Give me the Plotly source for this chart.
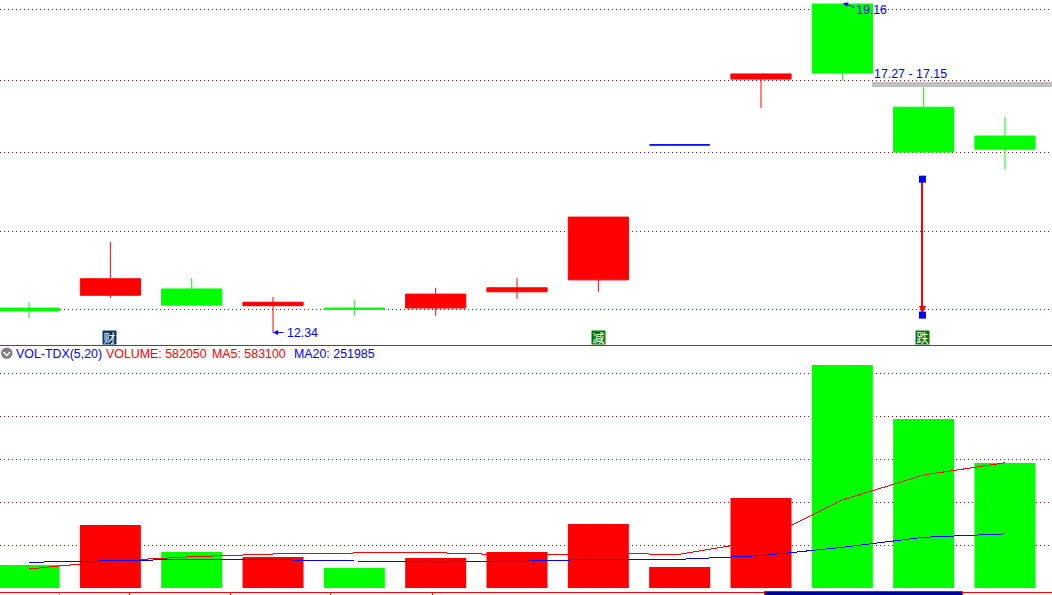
import math

import plotly.graph_objects as go

WIDTH = 1052
HEIGHT = 595

# daily candles, index 8 is the flat one and gets its own trace
days = list(range(13))
opens = [12.76, 12.98, 13.09, 12.80, 12.76, 12.76, 13.04, 13.25, 15.87, 17.33, 19.16, 16.69, 16.06]
closes = [12.71, 13.27, 12.81, 12.86, 12.74, 13.00, 13.11, 14.41, 15.87, 17.45, 17.47, 15.72, 15.78]
highs = [12.86, 13.94, 13.28, 12.95, 12.90, 13.11, 13.28, 14.41, 15.87, 17.45, 19.16, 17.15, 16.47]
lows = [12.59, 12.93, 12.81, 12.34, 12.63, 12.63, 12.92, 13.04, 15.87, 16.67, 17.29, 15.72, 15.35]

volume = [107000, 293000, 168000, 144000, 93000, 140000, 168000, 298000, 98000, 419000, 1038000, 787000, 582050]
volume_up = [False, True, False, True, False, True, True, True, True, True, False, False, False]
ma5 = [88500, 125700, 145700, 158300, 163000, 164400, 153600, 160600, 156900, 221200, 409700, 526100, 583100]
ma20 = [119700, 127100, 133600, 131800, 125700, 124300, 124300, 133600, 133600, 150400, 189500, 236100, 251985]

price_grid = [19.03, 17.29, 15.72, 14.14, 12.73]
volume_grid = [200000, 400000, 600000, 800000, 1000000]
price_range = [12.145, 19.263]
volume_range = [-16300, 1131400]
x_range = [-0.357, 12.578]
volume_ticks = [1.24, 2.48, 3.71, 4.96]

band_low, band_high = 17.15, 17.27
drop_x = 10.985
drop_from, drop_to = 15.16, 12.64

RED = "#ff0000"
GREEN = "#00ff00"
BLUE = "#0000ff"
GRID = "#b00000"
FONT = "Liberation Sans"


def px_x(x):
    return x / WIDTH


def px_y(y):
    return (HEIGHT - y) / HEIGHT


fig = go.Figure()

# candles without the flat one
idx = [i for i in days if i != 8]
fig.add_trace(go.Candlestick(
    x=idx,
    open=[opens[i] for i in idx],
    high=[highs[i] for i in idx],
    low=[lows[i] for i in idx],
    close=[closes[i] for i in idx],
    whiskerwidth=0,
    increasing=dict(line=dict(color=RED, width=1), fillcolor=RED),
    decreasing=dict(line=dict(color=GREEN, width=1), fillcolor=GREEN),
    showlegend=False,
    hoverinfo="skip",
))
fig.add_trace(go.Candlestick(
    x=[8],
    open=[opens[8]],
    high=[highs[8]],
    low=[lows[8]],
    close=[closes[8]],
    whiskerwidth=0,
    increasing=dict(line=dict(color=BLUE, width=1), fillcolor=BLUE),
    decreasing=dict(line=dict(color=BLUE, width=1), fillcolor=BLUE),
    showlegend=False,
    hoverinfo="skip",
))

# the red drop marker over the second last candle
fig.add_trace(go.Scatter(
    x=[drop_x, drop_x],
    y=[drop_from, drop_to],
    mode="lines",
    line=dict(color=RED, width=2),
    showlegend=False,
    hoverinfo="skip",
))
fig.add_trace(go.Scatter(
    x=[drop_x, drop_x],
    y=[drop_from, drop_to],
    mode="markers",
    marker=dict(symbol="square", size=7, color=BLUE),
    showlegend=False,
    hoverinfo="skip",
))

# volume pane
fig.add_trace(go.Bar(
    x=days,
    y=volume,
    width=0.75,
    marker=dict(color=[RED if up else GREEN for up in volume_up], line=dict(width=0)),
    xaxis="x2",
    yaxis="y2",
    showlegend=False,
    hoverinfo="skip",
))
fig.add_trace(go.Scatter(
    x=days, y=ma5, mode="lines", line=dict(color=RED, width=1),
    xaxis="x2", yaxis="y2", showlegend=False, hoverinfo="skip",
))
fig.add_trace(go.Scatter(
    x=days, y=ma20, mode="lines", line=dict(color=BLUE, width=1),
    xaxis="x2", yaxis="y2", showlegend=False, hoverinfo="skip",
))


def label(x, y, text, color=BLUE, size=12.4, **kw):
    fig.add_annotation(
        x=px_x(x), y=px_y(y), xref="paper", yref="paper",
        text=text, showarrow=False, xanchor="left", yanchor="middle",
        font=dict(family=FONT, size=size, color=color), borderpad=0, **kw,
    )


label(15, 353.5, "VOL-TDX(5,20)")
label(105, 353.5, "VOLUME: 582050", RED)
label(211, 353.5, "MA5: 583100", RED)
label(293, 353.5, "MA20: 251985")
label(855, 9.5, "19.16")
label(873, 74, "17.27 - 17.15")
label(286, 333, "12.34")

# small arrows from the price labels to the extreme points
fig.add_annotation(
    x=px_x(843), y=px_y(3), ax=13, ay=5, xref="paper", yref="paper",
    text="", showarrow=True, arrowhead=2, arrowsize=1, arrowwidth=1, arrowcolor=BLUE,
)
fig.add_annotation(
    x=px_x(273), y=px_y(332.5), ax=12, ay=0, xref="paper", yref="paper",
    text="", showarrow=True, arrowhead=2, arrowsize=1, arrowwidth=1, arrowcolor=BLUE,
)

# red head of the drop marker
fig.add_annotation(
    x=px_x(922.5), y=px_y(313), ax=0, ay=-9, xref="paper", yref="paper",
    text="", showarrow=True, arrowhead=2, arrowsize=0.7, arrowwidth=2, arrowcolor=RED,
)

# news badges sitting on the pane border
for cx, char, bg in [(109.5, "财", "#0a3a6e"), (598.5, "减", "#007a00"), (922.5, "跌", "#007a00")]:
    fig.add_annotation(
        x=px_x(cx), y=px_y(337.5), xref="paper", yref="paper", text=char,
        showarrow=False, bgcolor=bg, borderpad=0, xanchor="center", yanchor="middle",
        font=dict(family="Noto Sans CJK SC", size=12, color="white"),
        width=13, height=13,
    )

shapes = [
    # support band
    dict(type="rect", xref="paper", yref="y", x0=px_x(872), x1=1, y0=band_low, y1=band_high,
         fillcolor="#c0c0c0", line=dict(width=0)),
    # collapse icon
    dict(type="circle", xref="paper", yref="paper", x0=px_x(1), x1=px_x(12.5),
         y0=px_y(359), y1=px_y(347.5), fillcolor="#808080", line=dict(width=0)),
    dict(type="path", xref="paper", yref="paper",
         path=f"M {px_x(3.5)} {px_y(352)} L {px_x(6.75)} {px_y(355.5)} L {px_x(10)} {px_y(352)}",
         line=dict(color="white", width=1.5)),
    # scrollbar thumb under the volume pane
    dict(type="rect", xref="paper", yref="paper", x0=px_x(764.5), x1=px_x(962.5),
         y0=px_y(597), y1=px_y(591.5), fillcolor="#0000a0", line=dict(color=RED, width=1)),
    # faint blue tick left of the red ones
    dict(type="line", xref="paper", yref="paper", x0=px_x(59.5), x1=px_x(59.5),
         y0=px_y(595), y1=px_y(592.5), line=dict(color="#8080ff", width=1)),
]

fig.update_layout(
    width=WIDTH,
    height=HEIGHT,
    margin=dict(l=0, r=0, t=0, b=0, pad=0),
    paper_bgcolor="white",
    plot_bgcolor="white",
    boxgap=0.26,
    boxgroupgap=0,
    showlegend=False,
    shapes=shapes,
    xaxis=dict(
        domain=[0, 1], range=x_range, anchor="y", rangeslider=dict(visible=False),
        showgrid=False, zeroline=False, showticklabels=False, ticks="",
        showline=True, linecolor=RED, linewidth=1,
    ),
    yaxis=dict(
        domain=[px_y(345), 1], type="log", anchor="x",
        range=[math.log10(price_range[0]), math.log10(price_range[1])],
        tickmode="array", tickvals=price_grid, showticklabels=False, ticks="",
        showgrid=True, gridcolor=GRID, griddash="1px,3px", gridwidth=1, zeroline=False,
    ),
    xaxis2=dict(
        domain=[0, 1], range=x_range, anchor="y2", showgrid=False, zeroline=False,
        tickmode="array", tickvals=volume_ticks, showticklabels=False,
        ticks="outside", ticklen=3, tickcolor=RED, tickwidth=1,
        showline=True, linecolor=RED, linewidth=1,
    ),
    yaxis2=dict(
        domain=[px_y(591.5), px_y(345)], range=volume_range, anchor="x2",
        tickmode="array", tickvals=volume_grid, showticklabels=False, ticks="",
        showgrid=True, gridcolor=GRID, griddash="1px,3px", gridwidth=1, zeroline=False,
    ),
)

# the terminal draws without antialiasing, so the grid and MA lines are pixel sharp
post = """
document.body.style.margin='0';
document.body.style.overflow='hidden';
document.querySelectorAll('.gridlayer path, .scatterlayer .js-line').forEach(function (p) {
    p.style.shapeRendering = 'crispEdges';
});
"""

fig.write_html("out.html", config=dict(displayModeBar=False), post_script=post)
